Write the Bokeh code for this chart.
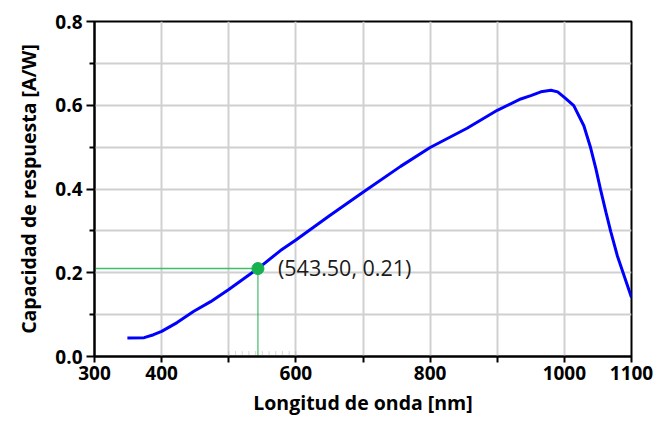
from bokeh.plotting import figure
from bokeh.models import FixedTicker, PrintfTickFormatter
from bokeh.core.properties import value
from bokeh.embed import file_html
from bokeh.resources import INLINE

# ---- data ----
wavelength = [349, 374, 388, 400, 423, 448, 473, 500, 543.5, 577, 600, 650, 700,
              756, 800, 855, 900, 935, 950, 965, 980, 990, 1000, 1014, 1029,
              1039, 1047, 1054, 1062, 1069, 1079, 1089, 1100]
responsivity = [0.044, 0.045, 0.052, 0.060, 0.081, 0.108, 0.131, 0.160, 0.21, 0.253,
                0.278, 0.336, 0.392, 0.454, 0.499, 0.545, 0.588, 0.615, 0.623, 0.632,
                0.636, 0.632, 0.619, 0.599, 0.551, 0.499, 0.448, 0.398, 0.344, 0.299,
                0.240, 0.193, 0.141]

point_x = [543.5]
point_y = [0.21]
point_label = ["(543.50, 0.21)"]

# small measuring ruler drawn by the cursor tool along the x axis
ruler_x = [500, 510, 520, 530, 540, 550, 560, 570, 580, 590, 600]

x_ticks = [300, 400, 500, 600, 700, 800, 900, 1000, 1100]
x_hidden = [500, 700, 900]
y_major = [0.0, 0.2, 0.4, 0.6, 0.8]
y_minor = [0.1, 0.3, 0.5, 0.7]

x_title = "Longitud de onda [nm]"
y_title = "Capacidad de respuesta [A/W]"

FONT = "Open Sans"

p = figure(width=667, height=423, x_range=(300, 1100), y_range=(0, 0.8),
           output_backend="svg", toolbar_location=None,
           min_border_left=94, min_border_right=36, min_border_top=21,
           min_border_bottom=67)

p.outline_line_color = "black"
p.outline_line_width = 2
p.outline_line_alpha = 1.0

# grids
p.xgrid.ticker = FixedTicker(ticks=x_ticks)
p.ygrid.ticker = FixedTicker(ticks=y_major, minor_ticks=y_minor)
for g in (p.xgrid, p.ygrid):
    g.grid_line_color = "#d0d0d0"
    g.grid_line_width = 2
p.ygrid.minor_grid_line_color = "#d0d0d0"
p.ygrid.minor_grid_line_width = 2

# x axis
xa = p.xaxis[0]
xa.ticker = FixedTicker(ticks=x_ticks, minor_ticks=[])
xa.major_label_overrides = {float(t): "" for t in x_hidden}
xa.major_tick_out = 6
xa.major_tick_in = 0
xa.minor_tick_out = 0
xa.minor_tick_in = 0

# y axis
ya = p.yaxis[0]
ya.ticker = FixedTicker(ticks=y_major, minor_ticks=y_minor)
ya.formatter = PrintfTickFormatter(format="%.1f")
ya.major_tick_out = 8
ya.major_tick_in = 0
ya.minor_tick_out = 5
ya.minor_tick_in = 0

for ax in (xa, ya):
    ax.axis_line_width = 2
    ax.axis_line_color = "black"
    ax.major_tick_line_width = 2
    ax.minor_tick_line_width = 2
    ax.major_tick_line_color = "black"
    ax.minor_tick_line_color = "black"
    ax.major_label_text_font = FONT
    ax.major_label_text_font_style = "bold"
    ax.major_label_text_font_size = "19px"
    ax.major_label_text_color = "black"
    ax.axis_label_text_font = FONT
    ax.axis_label_text_font_style = "bold"
    ax.axis_label_text_font_size = "19.5px"
    ax.axis_label_text_color = "black"

xa.axis_label = x_title
ya.axis_label = y_title
xa.major_label_standoff = 3
xa.axis_label_standoff = 6
ya.major_label_standoff = 4
ya.axis_label_standoff = 10

# curve
p.line(wavelength, responsivity, line_color="#0000ff", line_width=3)

# faint ruler ticks
p.segment(x0=ruler_x, y0=[0.0] * len(ruler_x), x1=ruler_x, y1=[0.014] * len(ruler_x),
          line_color="#9a9a9a", line_width=0.8, line_dash="1 1")

# crosshair
x_start = p.x_range.start
p.segment(x0=[x_start], y0=point_y, x1=point_x, y1=point_y,
          line_color="#3cbf6a", line_width=1.5)
p.segment(x0=point_x, y0=[0], x1=point_x, y1=point_y,
          line_color="#22a84a", line_width=1)

# marker
p.scatter(point_x, point_y, size=12, fill_color="#16b04e", line_color="#16b04e")

# label
p.text(x=point_x, y=point_y, text=point_label, x_offset=20, y_offset=-1,
       text_baseline="middle", text_align="left",
       text_font=value(FONT), text_font_size="21.5px", text_color="#1a1a1a")

with open("out.html", "w") as f:
    f.write(file_html(p, INLINE))
